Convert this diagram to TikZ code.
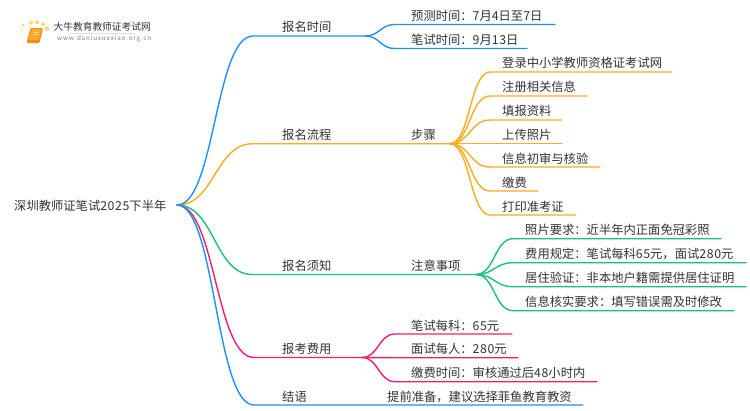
\documentclass[tikz,border=0pt]{standalone}
\usetikzlibrary{calc}
\usepackage{fontspec}
\setmainfont{Noto Sans CJK SC}
\newcommand{\dg}[1]{{\addfontfeature{LetterSpace=5}#1}}
\definecolor{cblue}{RGB}{30,144,255}
\definecolor{corange}{RGB}{250,173,30}
\definecolor{cgreen}{RGB}{25,195,125}
\definecolor{cpink}{RGB}{245,30,110}
\definecolor{ctext}{RGB}{51,51,51}
\definecolor{dotA}{RGB}{255,214,120}
\definecolor{dotB}{RGB}{255,235,190}
\definecolor{bookA}{RGB}{240,140,20}
\definecolor{bookB}{RGB}{252,170,40}
\definecolor{bookC}{RGB}{255,215,140}
\tikzset{
  lab/.style={anchor=west,inner sep=0pt,font=\fontsize{12.3}{14}\selectfont,text=ctext},
  wire/.style={line width=1.4pt,line cap=round},
  sbend/.style={wire,to path={let \p1=(\tikztostart),\p2=(\tikztotarget) in
     .. controls ({(\x1+\x2)/2},\y1) and ({(\x1+\x2)/2},\y2) .. (\tikztotarget)}},
  sun/.style={fill=#1,draw=none}
}
\begin{document}
\begin{tikzpicture}[x=1pt,y=-1pt]
\useasboundingbox (0,0) rectangle (750,410);
\fill[white] (0,0) rectangle (750,410);
% logo
\fill[sun=dotA] (23,25) circle (1.5) (31,22.7) circle (2) (37,22.3) circle (2) (43,24.3) circle (2) (47.3,28.8) circle (2.4);
\fill[sun=dotB] (22,30) circle (1.3) (21,36.6) circle (1.1) (23.5,42.5) circle (1.1);
\fill[bookA,rounded corners=1.2pt] (30.5,28) -- (43,28) -- (39.5,43) -- (26.5,43) -- cycle;
\fill[bookB,rounded corners=.8pt] (31.5,29) -- (41.5,29) -- (38.5,40) -- (28.5,40) -- cycle;
\draw[bookC,line width=.5pt] (33.5,32) -- (39,32) (33,34.5) -- (38.4,34.5);
\node[anchor=west,inner sep=0pt,font=\fontsize{9.7}{11}\selectfont,text=ctext] (brand) at (53.5,27) {大牛教育教师证考试网};
\node[anchor=west,inner sep=0pt,font=\fontsize{6.3}{8}\selectfont,text=black!50] (url) at (57,39) {\addfontfeature{LetterSpace=13}www.daniuxuexiao.org.cn};
\draw[black!12,line width=.6pt] (70,33.5) -- (135,33.5);
% root
\node[lab] (root) at (14,205.5) {深圳教师证笔试\dg{2025}下半年};
\coordinate (r) at (177,205);
% level 1 junctions
\coordinate (a0) at (253,36);   \coordinate (a) at (365,36);
\coordinate (b0) at (253,143.7);\coordinate (b) at (450,143.7);
\coordinate (c0) at (252,274.5);\coordinate (c) at (476,274.5);
\coordinate (d0) at (254,357.5);\coordinate (d) at (362,357.5);
\coordinate (e0) at (254,405);  \coordinate (e) at (583,405);
% labels level 1
\node[lab] (na) at (282,27) {报名时间};
\node[lab] (nb) at (282,134.5) {报名流程};
\node[lab] (nc) at (282,265.5) {报名须知};
\node[lab] (nd) at (282,349) {报考费用};
\node[lab] (ne) at (282,397) {结语};
% level 2 labels
\node[lab] (nb2) at (411,135) {步骤};
\node[lab] (nc2) at (411,265.5) {注意事项};
\node[lab] (ne2) at (387,397) {提前准备，建议选择菲鱼教育教资};
% first group
\node[lab] (a1t) at (411,15.5) {预测时间：\dg{7}月\dg{4}日至\dg{7}日};
\node[lab] (a2t) at (411,39.5) {笔试时间：\dg{9}月\dg{13}日};
\coordinate (a1s) at (395,24.5); \coordinate (a1e) at (555,24.5);
\coordinate (a2s) at (395,48.5); \coordinate (a2e) at (527,48.5);
% second group
\node[lab] (b1t) at (502,63) {登录中小学教师资格证考试网};
\node[lab] (b2t) at (502,87) {注册相关信息};
\node[lab] (b3t) at (502,111) {填报资料};
\node[lab] (b4t) at (502,135) {上传照片};
\node[lab] (b5t) at (502,158.5) {信息初审与核验};
\node[lab] (b6t) at (502,182.5) {缴费};
\node[lab] (b7t) at (502,206.5) {打印准考证};
\coordinate (b1s) at (490,72);   \coordinate (b1e) at (672,72);
\coordinate (b2s) at (490,96);   \coordinate (b2e) at (587,96);
\coordinate (b3s) at (490,120);  \coordinate (b3e) at (562,120);
\coordinate (b4s) at (490,143.7);\coordinate (b4e) at (562,143.7);
\coordinate (b5s) at (490,167);  \coordinate (b5e) at (600,167);
\coordinate (b6s) at (490,191);  \coordinate (b6e) at (538,191);
\coordinate (b7s) at (490,215);  \coordinate (b7e) at (576,215);
% third group
\node[lab] (c1t) at (525,229.5) {照片要求：近半年内正面免冠彩照};
\node[lab] (c2t) at (525,253.5) {费用规定：笔试每科\dg{65}元，面试\dg{280}元};
\node[lab] (c3t) at (525,277.5) {居住验证：非本地户籍需提供居住证明};
\node[lab] (c4t) at (525,301.5) {信息核实要求：填写错误需及时修改};
\coordinate (c1s) at (513,238.7); \coordinate (c1e) at (721,238.7);
\coordinate (c2s) at (513,262.7); \coordinate (c2e) at (746,262.7);
\coordinate (c3s) at (513,286.7); \coordinate (c3e) at (746,286.7);
\coordinate (c4s) at (513,310.7); \coordinate (c4e) at (734,310.7);
% fourth group
\node[lab] (d1t) at (411,325.5) {笔试每科：\dg{65}元};
\node[lab] (d2t) at (411,349) {面试每人：\dg{280}元};
\node[lab] (d3t) at (411,373) {缴费时间：审核通过后\dg{48}小时内};
\coordinate (d1s) at (395,334);   \coordinate (d1e) at (512,334);
\coordinate (d2s) at (395,357.7); \coordinate (d2e) at (518,357.7);
\coordinate (d3s) at (395,381.7); \coordinate (d3e) at (597,381.7);
% connectors
\draw[wire,cblue] (a) to[sbend] (a1s) -- (a1e);
\draw[wire,cblue] (a) to[sbend] (a2s) -- (a2e);
\draw[wire,corange] (b) to[sbend] (b1s) -- (b1e);
\draw[wire,corange] (b) to[sbend] (b2s) -- (b2e);
\draw[wire,corange] (b) to[sbend] (b3s) -- (b3e);
\draw[wire,corange] (b) to[sbend] (b4s) -- (b4e);
\draw[wire,corange] (b) to[sbend] (b5s) -- (b5e);
\draw[wire,corange] (b) to[sbend] (b6s) -- (b6e);
\draw[wire,corange] (b) to[sbend] (b7s) -- (b7e);
\draw[wire,cgreen] (c) to[sbend] (c1s) -- (c1e);
\draw[wire,cgreen] (c) to[sbend] (c2s) -- (c2e);
\draw[wire,cgreen] (c) to[sbend] (c3s) -- (c3e);
\draw[wire,cgreen] (c) to[sbend] (c4s) -- (c4e);
\draw[wire,cpink] (d) to[sbend] (d1s) -- (d1e);
\draw[wire,cpink] (d) to[sbend] (d2s) -- (d2e);
\draw[wire,cpink] (d) to[sbend] (d3s) -- (d3e);
\draw[wire,corange] (r) to[sbend] (b0) -- (b);
\draw[wire,cgreen] (r) to[sbend] (c0) -- (c);
\draw[wire,cpink] (r) to[sbend] (d0) -- (d);
\draw[wire,cblue] (r) to[sbend] (e0) -- (e);
\draw[wire,cblue] (r) to[sbend] (a0) -- (a);
\end{tikzpicture}
\end{document}
